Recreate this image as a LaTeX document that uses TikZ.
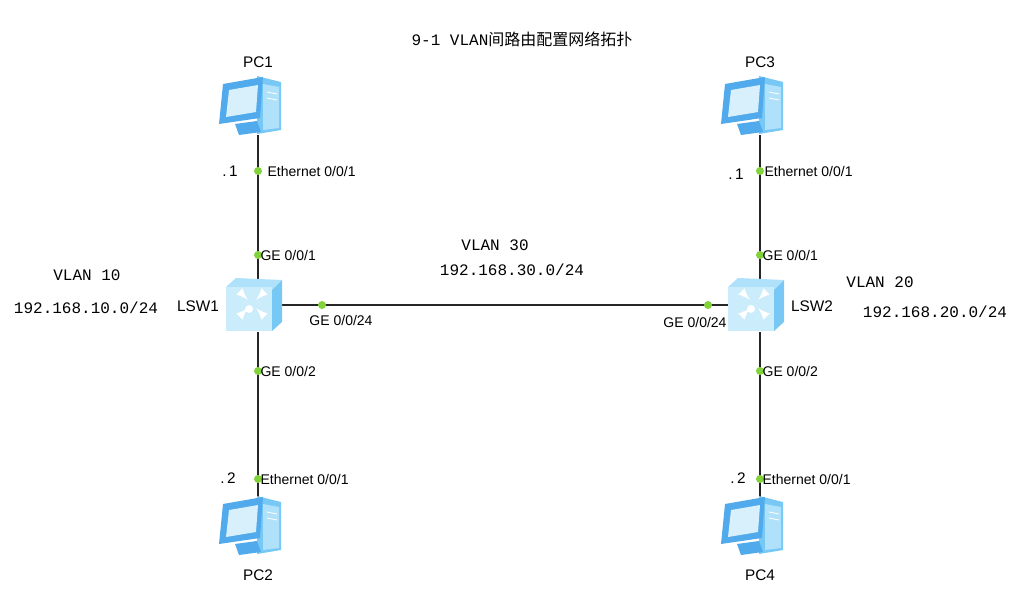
\documentclass[tikz,border=0pt]{standalone}
\usepackage{fontspec}
\setmainfont{Liberation Sans}
\setmonofont{Liberation Mono}
\newfontfamily\cjk{Noto Sans CJK SC}
\definecolor{blA}{RGB}{120,200,245}
\definecolor{blB}{RGB}{175,225,250}
\definecolor{blC}{RGB}{80,170,235}
\definecolor{blD}{RGB}{215,240,252}
\definecolor{portg}{RGB}{130,210,60}
\begin{document}
\begin{tikzpicture}[x=0.75pt,y=-0.75pt,
  link/.style={line width=1.7pt,black!85},
  port/.style={circle,fill=portg,inner sep=0pt,minimum size=6pt},
  plab/.style={font=\fontsize{10.5}{12}\selectfont,inner sep=1pt},
  mono/.style={font=\ttfamily\fontsize{12}{14}\selectfont},
  dev/.style={font=\fontsize{11.5}{13}\selectfont}]
\useasboundingbox (0,0) rectangle (1024,600);
\fill[white] (0,0) rectangle (1024,600);
\newcommand{\pcicon}[2]{%
 \begin{scope}[shift={(#1,#2)}]
  \fill[blA] (2,-28) -- (26,-22) -- (26,26) -- (2,30) -- cycle;
  \fill[blB] (8,-20) -- (24,-17) -- (24,24) -- (8,26) -- cycle;
  \draw[white,line width=0.6pt] (12,-12)--(22,-10) (12,-6)--(22,-4);
  \fill[blC] (-32,-20) -- (8,-27) -- (5,14) -- (-36,20) -- cycle;
  \fill[blD] (-26,-14) -- (3,-19) -- (1,8) -- (-29,13) -- cycle;
  \fill[blC] (-20,20) -- (2,17) -- (6,28) -- (-16,31) -- cycle;
 \end{scope}}
\newcommand{\swicon}[2]{%
 \begin{scope}[shift={(#1,#2)}]
  \fill[blB] (-26,-17) -- (-16,-26) -- (30,-24) -- (20,-14) -- cycle;
  \fill[blA] (20,-14) -- (30,-24) -- (30,18) -- (20,27) -- cycle;
  \fill[blD!70!blB] (-26,-17) rectangle (20,27);
  \foreach \a in {45,135,225,315}{
   \draw[white,line width=2pt,-latex] (\a:16) -- (\a:6);}
  \fill[white] (-3,5) circle (4);
 \end{scope}}
% nodes
\node[dev] (pc1l) at (258,62) {PC1};
\node[dev] (pc3l) at (760,62) {PC3};
\node[dev] (pc2l) at (258,575) {PC2};
\node[dev] (pc4l) at (760,575) {PC4};
\coordinate (pc1) at (258,135);
\coordinate (pc3) at (760,135);
\coordinate (pc2) at (258,497);
\coordinate (pc4) at (760,497);
\coordinate (s1t) at (258,280);
\coordinate (s1b) at (258,332);
\coordinate (s1r) at (276,305);
\coordinate (s2t) at (760,280);
\coordinate (s2b) at (760,332);
\coordinate (s2l) at (733,305);
\draw[link] (pc1) -- (s1t);
\draw[link] (s1b) -- (pc2);
\draw[link] (pc3) -- (s2t);
\draw[link] (s2b) -- (pc4);
\draw[link] (s1r) -- (s2l);
\pcicon{255}{104}
\pcicon{757}{104}
\pcicon{255}{524}
\pcicon{757}{524}
\swicon{252}{304}
\swicon{754}{304}
\node[dev] (lsw1) at (198,306) {LSW1};
\node[dev] (lsw2) at (812,306) {LSW2};
% ports
\foreach \n/\x/\y in {a/258/171,b/258/255,c/258/371,d/258/479,e/760/171,f/760/255,g/760/371,h/760/479,i/322/305,j/708/305}
  \node[port] (p\n) at (\x,\y) {};
\node[plab,anchor=west] at (266,171) {Ethernet 0/0/1};
\node[plab,anchor=west] at (259,255) {GE 0/0/1};
\node[plab,anchor=west] at (259,371) {GE 0/0/2};
\node[plab,anchor=west] at (259,479) {Ethernet 0/0/1};
\node[plab,anchor=west] at (763,171) {Ethernet 0/0/1};
\node[plab,anchor=west] at (761,255) {GE 0/0/1};
\node[plab,anchor=west] at (761,371) {GE 0/0/2};
\node[plab,anchor=west] at (761,479) {Ethernet 0/0/1};
\node[plab] at (341,320) {GE 0/0/24};
\node[plab] at (695,322) {GE 0/0/24};
\node[dev] at (230,171) {.\,1};
\node[dev] at (736,174) {.\,1};
\node[dev] at (228,478) {.\,2};
\node[dev] at (738,478) {.\,2};
% texts
\node[mono] (title) at (522,39) {9-1 VLAN{\cjk\fontsize{12}{14}\selectfont 间路由配置网络拓扑}};
\node[mono] at (87,275) {VLAN 10};
\node[mono] at (86,308) {192.168.10.0/24};
\node[mono] at (495,245) {VLAN 30};
\node[mono] at (512,270) {192.168.30.0/24};
\node[mono] at (880,282) {VLAN 20};
\node[mono] at (935,312) {192.168.20.0/24};
\end{tikzpicture}
\end{document}
